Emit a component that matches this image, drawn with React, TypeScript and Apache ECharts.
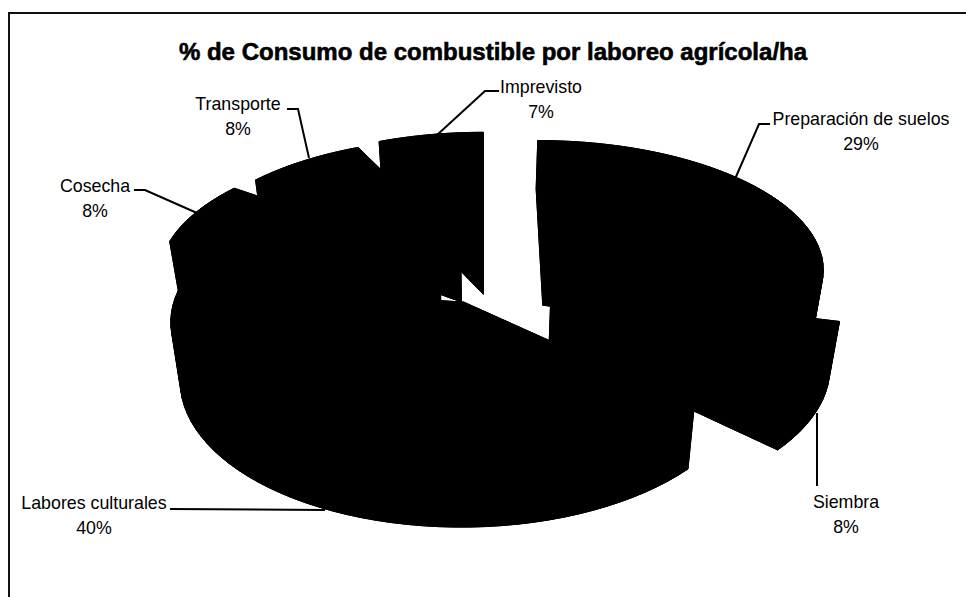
import React, { useEffect, useRef } from "react";
import * as echarts from "echarts";

const titleText = "% de Consumo de combustible por laboreo agrícola/ha";
const categories = ["Preparación de suelos", "Siembra", "Labores culturales", "Cosecha", "Transporte", "Imprevisto"];
const percents = [29, 8, 40, 8, 8, 7];

// label layout, one per category: text centre, text top, leader line
const labelCentres = [[861, 106], [846, 489], [94, 490], [95, 173], [238, 91], [541, 74]];
const leaderLines = [
  [[770, 124], [759, 124], [735, 179]],
  [[817, 413], [817, 486]],
  [[170, 509], [325, 510]],
  [[134, 190], [145, 190], [197, 213]],
  [[287, 109], [298, 109], [309, 158]],
  [[499, 91], [485, 91], [437, 135]],
];
// how far each slice is pulled out of the pie, in pie radii (across, back)
const sliceOffsets = [
  [0.22, 0.185],
  [0.235, -0.1],
  [-0.07, -0.21],
  [-0.16, 0.134],
  [-0.085, 0.21],
  [-0.003, 0.27],
];

const CX = 484, CY = 274, RX = 282, RY = 130, PERSP = 0.13, DEPTH = 56, TAPER = 0.03;

function project(x: number, y: number, z: number): number[] {
  const s = 1 / (1 + PERSP * y);
  return [CX + RX * x * s * (1 - z * TAPER), CY - RY * y * s + z * DEPTH * s];
}

function renderSlice(params: any, api: any) {
  const i = params.dataIndex;
  const total = percents.reduce((a, b) => a + b, 0);
  let before = 0;
  for (let k = 0; k < i; k++) before += percents[k];
  const v = api.value(0);
  const a0 = (before / total) * Math.PI * 2;
  const a1 = ((before + v) / total) * Math.PI * 2;
  const [ox, oy] = sliceOffsets[i];
  const world: number[][] = [[ox, oy]];
  const steps = Math.max(4, Math.ceil((a1 - a0) / 0.05));
  for (let n = 0; n <= steps; n++) {
    const a = a0 + ((a1 - a0) * n) / steps;
    world.push([ox + Math.sin(a), oy + Math.cos(a)]);
  }
  const top = world.map((p) => project(p[0], p[1], 0));
  const bottom = world.map((p) => project(p[0], p[1], 1));
  const ink = { fill: "#000", stroke: "#000", lineWidth: 1 };
  const children: any[] = [
    { type: "polygon", shape: { points: top }, style: ink },
    { type: "polygon", shape: { points: bottom }, style: ink },
  ];
  for (let n = 0; n < world.length; n++) {
    const m = (n + 1) % world.length;
    children.push({ type: "polygon", shape: { points: [top[n], top[m], bottom[m], bottom[n]] }, style: ink });
  }
  children.push({
    type: "polyline",
    shape: { points: leaderLines[i] },
    style: { fill: "none", stroke: "#000", lineWidth: 2 },
  });
  children.push({
    type: "text",
    x: labelCentres[i][0],
    y: labelCentres[i][1],
    style: {
      text: `${categories[i]}\n${v}%`,
      fill: "#000",
      font: '17.8px "Liberation Sans", Arial, sans-serif',
      lineHeight: 25,
      align: "center",
      verticalAlign: "top",
    },
  });
  return { type: "group", children };
}

export default function App() {
  const ref = useRef<HTMLDivElement>(null);
  useEffect(() => {
    const chart = echarts.init(ref.current!, undefined, { renderer: "svg" });
    chart.setOption({
      animation: false,
      backgroundColor: "#fff",
      title: {
        text: titleText,
        left: 488,
        top: 34,
        textAlign: "center",
        textStyle: {
          color: "#000",
          fontFamily: '"Liberation Sans", Arial, sans-serif',
          fontWeight: "bold",
          fontSize: 24,
          textBorderColor: "#000",
          textBorderWidth: 0.6,
        },
      },
      graphic: [
        {
          type: "polyline",
          shape: { points: [[9, 597], [9, 13], [966, 13]] },
          style: { fill: "none", stroke: "#111", lineWidth: 2 },
        },
      ],
      series: [
        {
          type: "custom",
          coordinateSystem: "none",
          renderItem: renderSlice,
          data: percents.map((p, i) => ({ name: categories[i], value: [p] })),
        },
      ],
    });
    return () => chart.dispose();
  }, []);
  return <div ref={ref} style={{ position: "absolute", left: 0, top: 0, width: 966, height: 597 }} />;
}
